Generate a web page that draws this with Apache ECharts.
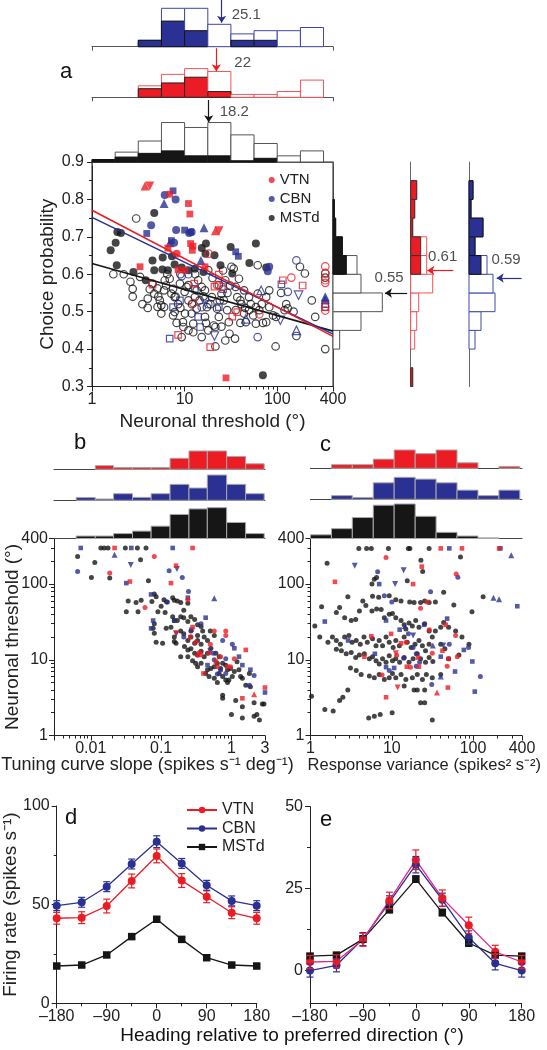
<!DOCTYPE html>
<html><head><meta charset="utf-8">
<script src="https://cdn.jsdelivr.net/npm/echarts@6/dist/echarts.min.js"></script>
<style>html,body{margin:0;padding:0;background:#fff}#c{width:547px;height:1050px}</style>
</head><body><div id="c"></div>
<script>
// ===================== DATA =====================
// Panel a: marginal histograms of neuronal threshold (bin edges, deg)
const aTopBins = [1,1.78,3.16,5.62,10,17.8,31.6,56.2,100,178,316];
const aTopCBNAll = [0,0,2,12,12,7,4,5,5,6];
const aTopCBNSig = [0,0,2,8,5,0,2,2,0,0];
const aTopVTNAll = [0,0,4,8,10,9,1,1,2,6];
const aTopVTNSig = [0,0,3,5,7,2,0,0,0,0];
const aTopMSTdAll = [2,8,17,32,28,32,22,15,5,9];
const aTopMSTdSig = [2,4,7,9,5,5,1,3,0,0];
const aMeanThrCBN = 25.1, aMeanThrVTN = 22, aMeanThrMSTd = 18.2;
// Panel a: marginal histograms of choice probability
const cpBins = [0.30,0.35,0.40,0.45,0.50,0.55,0.60,0.65,0.70,0.75,0.80,0.85,0.90];
const cpMSTdAll = [0,0,5,21,37,21,18,7,2,1,0,0];
const cpMSTdSig = [0,0,0,0,0,0,10,7,2,1,0,0];
const cpVTNAll = [1,0,2,3,4,11,8,8,1,2,3,0];
const cpVTNSig = [1,0,0,0,0,0,5,5,1,2,3,0];
const cpCBNAll = [0,0,3,6,13,12,9,3,7,1,2,0];
const cpCBNSig = [0,0,0,0,0,0,6,3,7,1,2,0];
const cpMeanMSTd = 0.55, cpMeanVTN = 0.61, cpMeanCBN = 0.59;
// Panel a scatter: [threshold, CP] ; codes O/o circle, S/s square, U/u up-tri, D/d down-tri (upper = filled)
const aMSTdSig = [[4.7,0.764],[1.88,0.713],[2.05,0.71],[1.59,0.664],[1.8,0.684],[1.85,0.624],[2.8,0.606],[3.8,0.584],[4.5,0.637],[5.8,0.645],[7.3,0.648],[5.75,0.613],[6.6,0.611],[4.7,0.611],[7.8,0.626],[9.3,0.618],[15.3,0.67],[17,0.682],[16.8,0.655],[21,0.651],[31.4,0.673],[50,0.63],[58.8,0.682],[76,0.618],[70,0.33],[12.9,0.615],[11,0.611],[16,0.606],[32.7,0.602],[24.4,0.624]];
const aMSTdNS = [[3,0.749],[2.2,0.6],[2.75,0.561],[2.75,0.54],[3.3,0.593],[4,0.535],[4,0.51],[5.1,0.562],[5.2,0.54],[5.4,0.53],[5.6,0.517],[5.1,0.513],[6,0.512],[6,0.557],[6.3,0.57],[6.5,0.6],[6.9,0.588],[7.2,0.548],[7.5,0.561],[7.8,0.539],[8.5,0.52],[7.8,0.499],[7.5,0.49],[8.9,0.575],[10,0.553],[10.5,0.566],[9.6,0.472],[9.7,0.459],[9.3,0.432],[11,0.53],[11.9,0.495],[12.4,0.468],[12.9,0.539],[13.5,0.508],[14,0.584],[15.3,0.566],[16,0.541],[16.6,0.486],[17.4,0.512],[18,0.611],[19.7,0.539],[20.6,0.463],[21.5,0.459],[22.4,0.508],[23.4,0.571],[25,0.548],[26.5,0.53],[27.5,0.584],[28.8,0.504],[30,0.472],[30.5,0.441],[32,0.62],[33.9,0.615],[35.6,0.566],[37,0.539],[38.6,0.588],[41,0.52],[43.8,0.495],[49.6,0.539],[51.8,0.52],[58.8,0.512],[61.5,0.624],[64,0.504],[76,0.539],[82,0.512],[97,0.486],[96,0.407],[120,0.504],[130,0.509],[161,0.435],[176,0.62],[199,0.602],[257,0.486],[236,0.53],[330,0.602],[330,0.591],[330,0.4],[21.5,0.407],[27.5,0.423],[35,0.428],[58.8,0.468],[76,0.472],[11,0.45],[18,0.45],[15.3,0.432],[12.4,0.445],[5.6,0.495],[4.7,0.548],[4.5,0.575],[6.1,0.584],[10.1,0.495],[16.6,0.557],[43.8,0.557],[49.6,0.504],[23.4,0.486],[11,0.571],[13.5,0.557],[35.6,0.504],[45.8,0.472],[61.5,0.548],[82,0.557],[125,0.52],[2.6,0.58],[3.5,0.52],[4.2,0.56],[8,0.54],[9,0.51],[12,0.52],[14.5,0.53],[19,0.52],[24,0.53],[29,0.55],[40,0.53],[45,0.51],[55,0.49],[68,0.52],[90,0.49],[110,0.55],[150,0.5],[9,0.6],[13,0.6],[20,0.59],[26,0.61],[31,0.57],[8.2,0.47],[17,0.47],[25,0.46],[40,0.47],[70,0.47],[1.7,0.6]];
const aVTN = [[3.74,0.836,'U'],[4.2,0.836,'D'],[21.5,0.716,'U'],[23.5,0.716,'D'],[6.9,0.814,'S'],[11,0.789,'S'],[11.4,0.761,'S'],[11.6,0.682,'S'],[12.1,0.664,'S'],[6.6,0.67,'S'],[3.3,0.62,'S'],[10,0.611,'S'],[8.5,0.612,'S'],[28,0.323,'S'],[16.6,0.62,'S'],[12.3,0.675,'S'],[8.2,0.655,'O'],[18.1,0.655,'o'],[12.4,0.523,'o'],[142,0.591,'o'],[330,0.621,'o'],[330,0.604,'o'],[330,0.584,'o'],[330,0.577,'o'],[330,0.513,'o'],[330,0.503,'o'],[64,0.493,'o'],[22.4,0.571,'o'],[25,0.566,'o'],[4.5,0.572,'s'],[8.5,0.438,'s'],[18.9,0.405,'s'],[12.7,0.575,'s'],[23.4,0.599,'s'],[32.7,0.487,'s'],[37,0.499,'s'],[115,0.584,'s'],[188,0.57,'s'],[21,0.567,'s']];
const aCBN = [[6.1,0.812,'O'],[8,0.8,'O'],[4.35,0.731,'O'],[8.1,0.718,'O'],[11.9,0.713,'O'],[82,0.62,'O'],[79,0.608,'O'],[7.7,0.684,'O'],[11.2,0.71,'O'],[7.5,0.823,'S'],[3.9,0.709,'S'],[10,0.718,'S'],[11.6,0.713,'S'],[35.6,0.66,'S'],[38,0.648,'S'],[7.2,0.69,'S'],[6,0.789,'U'],[16.2,0.724,'U'],[6.9,0.684,'U'],[15,0.637,'U'],[330,0.54,'U'],[330,0.533,'U'],[161,0.637,'o'],[130,0.553,'o'],[61.5,0.432,'o'],[16.6,0.535,'o'],[15.3,0.512,'o'],[9.3,0.595,'o'],[18,0.52,'o'],[11,0.6,'o'],[6.9,0.428,'s'],[8.9,0.53,'s'],[7.5,0.512,'s'],[14.7,0.459,'s'],[14,0.486,'s'],[23.4,0.512,'s'],[12.9,0.561,'s'],[111,0.573,'s'],[330,0.52,'s'],[330,0.512,'s'],[26,0.56,'s'],[67,0.557,'u'],[45.8,0.481,'u'],[161,0.45,'u'],[108,0.477,'d'],[170,0.544,'d'],[21,0.435,'d']];
const aFitVTN = [[1,0.771],[400,0.434]];
const aFitCBN = [[1,0.752],[400,0.44]];
const aFitMSTd = [[1,0.629],[400,0.448]];

// Panel b: slope histograms and scatter [slope, threshold]
const bBins = [0.0062,0.0116,0.0211,0.0392,0.0721,0.134,0.249,0.454,0.855,1.59,2.92];
const bVTNHist = [0,2,1,1,1,6,10,10,7,3];
const bCBNHist = [1.5,0.7,3.6,1.6,3.6,8.7,6.7,13.8,8.7,3.6];
const bMSTdHist = [2,2,4,6,10,19.5,24,25,13,4];
const bMSTd = [[0.0139,300],[0.0155,300],[0.0176,300],[0.031,300],[0.046,300],[0.061,300],[0.0065,232],[0.0114,193],[0.0102,122],[0.0186,120],[0.051,210],[0.066,111],[0.034,60],[0.044,57],[0.052,61],[0.032,43],[0.047,43],[0.08,74],[0.085,68],[0.074,59],[0.09,43],[0.08,30],[0.085,17],[0.1,51],[0.11,62],[0.12,58],[0.146,66],[0.154,61],[0.17,60],[0.19,57],[0.21,45],[0.24,56],[0.114,42],[0.146,37],[0.154,33],[0.17,33],[0.19,37],[0.21,36],[0.24,32],[0.265,37],[0.3,34],[0.33,29],[0.37,27.5],[0.138,27],[0.154,20],[0.163,16.6],[0.19,24],[0.21,22],[0.24,18],[0.265,20],[0.3,16.6],[0.33,18],[0.37,16],[0.41,20],[0.457,18],[0.5,24],[0.57,21],[0.215,15],[0.24,13.5],[0.265,14],[0.3,12.2],[0.33,11.6],[0.37,13],[0.41,11],[0.457,12.2],[0.51,14.2],[0.6,12.2],[0.67,11],[0.75,9],[0.83,8.5],[0.63,9],[0.57,8.1],[0.51,7.7],[0.457,7.4],[0.43,6.6],[0.48,6],[0.57,5.7],[0.67,6.6],[0.75,6],[0.83,5.4],[0.92,5.4],[1.03,6],[1.1,7],[1.28,7.4],[1.43,5.7],[1.6,4.6],[1.86,4.4],[0.75,3.4],[0.75,3.1],[1.15,2.9],[1.43,2.4],[2.1,2.7],[2.9,2.6],[2.75,2.6],[1.0,1.9],[1.43,1.7],[2.1,1.8],[2.3,1.9],[2.5,1.6],[0.31,9],[0.33,8.1],[0.28,9.7],[0.24,11],[0.19,11],[0.154,17.4],[0.265,24],[0.33,21],[0.39,24],[0.105,16.6],[0.08,22.5],[0.077,26],[0.118,26],[0.37,9],[0.88,7.4],[0.7,7.7],[0.97,7.7],[1.2,9.4],[1.35,6],[1.8,6.6],[0.88,5],[0.63,5]];
const bVTN = [[0.0218,300,'S'],[0.28,300,'S'],[0.08,232,'O'],[0.0186,140,'O'],[0.036,108,'S'],[0.059,49,'O'],[0.163,175,'S'],[0.138,103,'S'],[0.24,62,'O'],[0.163,22.5,'D'],[0.28,27,'S'],[0.31,17,'O'],[0.57,24,'O'],[0.83,21,'O'],[0.37,11.6,'S'],[0.48,12.3,'O'],[0.7,11,'O'],[0.4,6.6,'S'],[0.63,8.1,'O'],[0.88,8.1,'S'],[0.97,8.1,'O'],[1.1,10.3,'O'],[1.6,13.5,'S'],[1.43,3.1,'S'],[2.1,3.5,'U'],[3,4.3,'S'],[0.5,16,'O'],[0.83,24,'O'],[0.33,11.6,'O'],[0.26,20,'S'],[0.6,9.5,'S'],[0.35,12.5,'O']];
const bCBN = [[0.0072,300,'S'],[0.0377,300,'S'],[0.146,300,'S'],[0.0218,244,'U'],[0.0065,147,'O'],[0.037,178,'D'],[0.032,103,'S'],[0.168,158,'D'],[0.13,150,'O'],[0.2,122,'O'],[0.245,80,'O'],[0.57,65,'U'],[0.072,73,'S'],[0.123,58,'O'],[0.24,66,'S'],[0.154,33,'S'],[0.077,33,'S'],[0.072,26,'S'],[0.21,20,'O'],[0.43,36,'S'],[0.37,30,'O'],[0.75,18,'O'],[1.03,16,'O'],[1.1,14.2,'S'],[0.83,10.3,'O'],[0.57,10,'O'],[0.5,13,'D'],[0.55,12.2,'O'],[1.28,11,'S'],[1.43,8.5,'S'],[1.86,7.4,'S'],[2.1,6.2,'O'],[1.8,4.6,'O'],[3,3.7,'S'],[0.457,8.5,'S'],[0.7,7.4,'S'],[0.83,6.6,'O'],[0.63,6.5,'O'],[0.165,22,'D'],[0.27,25,'S']];

// Panel c: response variance histograms and scatter [variance, threshold]
const cBins = [1,1.81,3.27,5.92,10.7,19.4,35.1,63.5,115,208,376];
const cVTNHist = [0,2,2,5,10,8,10,3,0,1];
const cCBNHist = [0,2,1,9,12,11,9,5,2,5];
const cMSTdHist = [3,8,17,27,28,18,5,2,0.5,0];
const cMSTd = [[3.93,296],[4.9,296],[5.6,296],[9.1,296],[16,296],[16.7,296],[28.8,296],[1.6,188],[22.8,207],[70,228],[24,147],[15.5,111],[6.1,116],[5.7,100],[6.5,122],[43.5,78],[2.88,68],[4.4,60],[5.8,69],[6.9,67],[9.3,70],[11.2,62],[13,60],[16.6,58],[18.8,57],[22.6,57],[25.4,60],[28.8,57],[34.4,58],[58,53],[97,43],[133,68],[1.37,50],[2.08,42],[2.28,49],[2.63,36],[3.17,33],[3.6,34],[4,44],[4.8,52],[5.7,44],[6.5,47],[7.4,46],[8.1,36],[9.3,40],[10.2,41],[11.2,36],[13,33],[14.2,29],[14.9,25.5],[16.3,30.5],[17.9,28],[19.7,33],[21.6,27],[25.4,30],[28.8,24],[31.5,20],[34.4,24],[40,27],[43.5,31],[50,27],[61,24],[73,20],[89,16.1],[67,11.6],[45,14],[40,16],[1.3,20],[1.64,17],[1.86,20],[2.08,18],[2.33,16],[2.63,20],[2.97,21],[3.25,17],[3.65,18],[4.1,16],[4.55,20],[5,17],[5.8,19],[6.4,15.3],[7,18],[7.7,15.3],[8.5,20],[9.3,17],[10.4,14.5],[11.2,18],[12.4,15.3],[14.2,20],[15.5,17],[17.3,14.5],[19.3,16],[21.6,18],[23.8,15.3],[26,13.2],[28.8,16],[2.08,13.8],[2.4,13.2],[2.75,12],[3.17,12.5],[3.6,10.7],[4,11.6],[4.6,12],[5.3,10.3],[5.8,11],[6.4,9.7],[7,8.8],[7.7,10.3],[8.5,9.3],[9.3,11.3],[10.2,9.7],[11.2,10.3],[12.5,9.3],[14.2,10.7],[16.3,9.3],[18.3,10.3],[20.6,12],[22.6,10.3],[26,9.3],[28.8,10.7],[32,9.5],[50,10.3],[3.1,7.8],[3.65,7.2],[4.2,6.4],[5.3,6.1],[6.1,5.8],[7,6.4],[8.1,5.5],[9.3,5.8],[10.2,6.6],[11.2,5.8],[13,6.4],[14.9,5.5],[17.9,5.8],[20.6,6.4],[23.8,5.5],[26.6,6.4],[31.5,5.8],[40,6.4],[2.88,4.0],[14.2,4.5],[18.8,4],[20.6,4],[25.4,4],[22.6,2.7],[25.4,2.7],[31.5,1.6],[2.5,3.2],[2.28,2.9],[1.5,2.2],[1.9,2.1],[5.2,1.7],[6.1,1.8],[7.2,1.9],[10.1,2.0],[1.03,3.3],[1.13,28]];
const cVTN = [[40,296,'S'],[73,296,'S'],[209,296,'S'],[8.5,225,'O'],[2.0,107,'S'],[23.4,170,'S'],[18.3,100,'S'],[62,136,'O'],[27.5,58,'S'],[22.6,48,'O'],[46,29,'S'],[61,21,'O'],[9.8,22,'S'],[5.6,20.5,'S'],[15,17,'O'],[11.2,12.2,'D'],[11.5,11.5,'O'],[21,10.7,'S'],[31.5,12.2,'O'],[42,13.2,'S'],[50,10.3,'S'],[64,11,'O'],[7.6,6.3,'O'],[15.3,8.1,'S'],[17,8,'O'],[21.6,8.1,'S'],[36,3.7,'U'],[49,4.3,'S'],[8.5,3.2,'S'],[11.8,4.3,'D'],[48,8.2,'O'],[13,16.5,'S'],[4.6,11,'S'],[29,25,'O']];
const cCBN = [[51,296,'S'],[217,296,'S'],[295,240,'U'],[3.5,175,'D'],[6.7,145,'O'],[11,100,'D'],[14,152,'D'],[7,100,'S'],[65,123,'O'],[30,79,'O'],[8.1,70,'O'],[10,58,'O'],[178,66,'U'],[209,63,'U'],[350,51,'S'],[1.5,32,'S'],[8.5,33,'S'],[12.5,25,'S'],[14.5,28,'U'],[25,29,'S'],[48,35,'S'],[18.3,21,'D'],[32,15.5,'U'],[43,15.5,'D'],[51,16,'O'],[40,11,'S'],[77,13.5,'S'],[88,14.5,'O'],[98,9.5,'S'],[60,7,'S'],[123,6,'O'],[105,3.8,'S'],[31,4.7,'O'],[40,6,'U'],[20,8.2,'O'],[9.3,7.2,'O'],[10.7,7.8,'S'],[8.5,8,'S'],[18.3,14.5,'O'],[2.9,18,'S'],[6.2,12,'S'],[16,22,'O'],[20,12,'O'],[22,9.3,'O'],[14,10.5,'O']];

// Panels d, e: tuning curves (heading deg) mean and s.e.m.
const headings = [-180,-135,-90,-45,0,45,90,135,180];
const dVTN = [43.1,43.4,49.3,62,74.7,62.2,54,45.9,43.1];
const dVTNErr = [3,3,3.5,3.5,3.5,3.5,3,3,3];
const dCBN = [49.5,51.2,59.1,70.6,81.9,70.9,59.8,51.9,49.5];
const dCBNErr = [2.5,2.5,2.5,2.5,3,2.5,2.5,2.5,2.5];
const dMSTd = [18.9,19.4,24.5,33.8,42.6,32.4,23.1,19.4,18.9];
const dMSTdErr = [1,1,1,1,1.2,1,1,1,1];
const eVTN = [2.6,2.8,9.4,21.4,33.8,22.1,13.8,5.7,2.6];
const eVTNErr = [2,2,2,2.5,3,2.5,2.5,2,2];
const eCBN = [0,1.6,9.6,20.8,32.3,21.6,10.1,2.2,0];
const eCBNErr = [2,2,2,2,2.5,2,2,2,2];
const eMSTd = [4.4,4.7,9.6,18.6,27.9,17.7,8.4,4.7,4.4];
const eMSTdErr = [0.8,0.8,1,1,1,1,1,0.8,0.8];

// ===================== STYLE / BUILD =====================
const FONT = "'Liberation Sans', Arial, Helvetica, sans-serif";
const RED = '#ec1c24', BLUE = '#2b3192', BLACK = '#161616', AX = '#222';
const RED_OUT = '#f2545a', BLUE_OUT = '#3d48a8', GREY_OUT = '#555';
const PINK = '#e4288a';

const grids = [], xAxes = [], yAxes = [], series = [];
const T = (size, extra) => Object.assign({fontSize: size, color: AX, fontFamily: FONT}, extra || {});
const line = (c) => ({show: true, onZero: false, lineStyle: {color: c || AX, width: 1}});
function grid(g) { grids.push(Object.assign({outerBoundsMode: 'none', containLabel: false}, g)); return grids.length - 1; }
const axBase = () => ({splitLine: {show: false}, axisLabel: {show: false}, axisTick: {show: false}, axisLine: {show: false, onZero: false}, minorTick: {show: false}, nameMoveOverlap: false});
function xa(o) { xAxes.push(Object.assign(axBase(), {position: 'bottom'}, o)); return xAxes.length - 1; }
function ya(o) { yAxes.push(Object.assign(axBase(), {position: 'left'}, o)); return yAxes.length - 1; }
function logMinor(lo, hi) {
  const out = [];
  for (let e = Math.floor(Math.log10(lo)); e <= Math.ceil(Math.log10(hi)); e++)
    for (let m = 2; m <= 9; m++) { const v = +(m * Math.pow(10, e)).toPrecision(3); if (v > lo * 1.01 && v < hi * 0.99) out.push(v); }
  return out;
}
const fmtLog = (v) => { if (v < 0.0049) return ''; return String(+(+v).toPrecision(3)); };
const binRows = (edges, all, sig) => all.map((v, i) => [edges[i], edges[i + 1], v, sig ? sig[i] : 0]);

function vHist(outline, fill, stroke) {
  return (params, api) => {
    const lo = api.value(0), hi = api.value(1), all = api.value(2), sig = api.value(3);
    const ch = [];
    const box = (v, st) => { const a = api.coord([lo, 0]), b = api.coord([hi, v]); ch.push({type: 'rect', shape: {x: a[0], y: b[1], width: b[0] - a[0], height: a[1] - b[1]}, style: st}); };
    if (all > 0) box(all, outline ? {fill: '#fff', stroke: outline, lineWidth: 1} : {fill: fill, stroke: stroke, lineWidth: 1});
    if (sig > 0) box(sig, {fill: fill, stroke: stroke, lineWidth: 1});
    return {type: 'group', children: ch};
  };
}
function hHist(outline, fill, stroke) {
  return (params, api) => {
    const lo = api.value(0), hi = api.value(1), all = api.value(2), sig = api.value(3);
    const ch = [];
    const box = (v, st) => { const a = api.coord([0, lo]), b = api.coord([v, hi]); ch.push({type: 'rect', shape: {x: a[0], y: b[1], width: b[0] - a[0], height: a[1] - b[1]}, style: st}); };
    if (all > 0) box(all, {fill: '#fff', stroke: outline, lineWidth: 1});
    if (sig > 0) box(sig, {fill: fill, stroke: stroke, lineWidth: 1});
    return {type: 'group', children: ch};
  };
}
function errBars(color) {
  return (params, api) => {
    const x = api.value(0), m = api.value(1), e = api.value(2);
    const t = api.coord([x, m + e]), b = api.coord([x, m - e]), w = 3.5;
    const st = {stroke: color, lineWidth: 1.2};
    return {type: 'group', children: [
      {type: 'line', shape: {x1: t[0], y1: t[1], x2: b[0], y2: b[1]}, style: st},
      {type: 'line', shape: {x1: t[0] - w, y1: t[1], x2: t[0] + w, y2: t[1]}, style: st},
      {type: 'line', shape: {x1: b[0] - w, y1: b[1], x2: b[0] + w, y2: b[1]}, style: st}]};
  };
}
const SIZES_A = {O: 8, o: 7.5, S: 6.8, s: 6.5, U: 9, u: 8.5, D: 9, d: 8.5};
const SIZES_B = {O: 5, o: 5, S: 4.6, s: 4.6, U: 6, u: 6, D: 6, d: 6};
function pts(arr, color, sizes, defCode) {
  return arr.map(p => {
    const code = p[2] || defCode;
    const k = code.toUpperCase();
    const filled = code === k;
    return {
      value: [p[0], p[1]],
      symbol: k === 'O' ? 'circle' : (k === 'S' ? 'rect' : 'triangle'),
      symbolRotate: k === 'D' ? 180 : 0,
      symbolSize: sizes[code],
      itemStyle: filled ? {color: color, borderWidth: 0} : {color: 'rgba(255,255,255,0)', borderColor: color, borderWidth: 1.2}
    };
  });
}
function scat(name, xi, yi, data, color, z) {
  series.push({type: 'scatter', name: name, xAxisIndex: xi, yAxisIndex: yi, data: data, itemStyle: {color: color}, z: z || 3, silent: true, animation: false, emphasis: {disabled: true}});
}
function annot(xi, yi, labelPt, text, arrowFrom, arrowTo, color, pos, dist) {
  series.push({type: 'scatter', xAxisIndex: xi, yAxisIndex: yi, symbolSize: 0, data: [labelPt], silent: true, animation: false, z: 6,
    label: {show: true, position: pos, distance: dist || 0, formatter: text, fontSize: 15, color: AX, fontFamily: FONT},
    markLine: {silent: true, animation: false, symbol: ['none', 'arrow'], symbolSize: 7, label: {show: false},
      lineStyle: {color: color, width: 1.2, type: 'solid'}, emphasis: {disabled: true},
      data: [[{coord: arrowFrom}, {coord: arrowTo}]]}});
}
function custom(xi, yi, render, data, z) {
  series.push({type: 'custom', xAxisIndex: xi, yAxisIndex: yi, renderItem: render, data: data, clip: false, silent: true, animation: false, z: z || 2});
}

// ---------- Panel a ----------
const AL = 92, AW = 241, AT = 162, AH = 224.5;
const PXC_BLUE = 3.2, PXC_RED = 2.87, PXC_BLK = 1.233;
const endTicks = {show: true, customValues: [1, 400], length: 4, lineStyle: {color: GREY_OUT}};
// top CBN hist
let g = grid({left: AL, top: 0, width: AW, height: 46.7});
let xi = xa({gridIndex: g, type: 'log', logBase: 10, min: 1, max: 400, axisLine: line(GREY_OUT), axisTick: endTicks});
let yi = ya({gridIndex: g, type: 'value', min: 0, max: 46.7 / PXC_BLUE});
custom(xi, yi, vHist(BLUE_OUT, BLUE, '#111'), binRows(aTopBins, aTopCBNAll, aTopCBNSig));
annot(xi, yi, [aMeanThrCBN, 9.9], String(aMeanThrCBN), [aMeanThrCBN, 46.7 / PXC_BLUE], [aMeanThrCBN, 7.5], BLUE, 'right', 10);
// top VTN hist
g = grid({left: AL, top: 47, width: AW, height: 50.3});
xi = xa({gridIndex: g, type: 'log', logBase: 10, min: 1, max: 400, axisLine: line(GREY_OUT), axisTick: endTicks});
yi = ya({gridIndex: g, type: 'value', min: 0, max: 50.3 / PXC_RED});
custom(xi, yi, vHist(RED_OUT, RED, '#222'), binRows(aTopBins, aTopVTNAll, aTopVTNSig));
annot(xi, yi, [aMeanThrVTN, 12.06], String(aMeanThrVTN), [aMeanThrVTN, 17.1], [aMeanThrVTN, 9.1], RED, 'right', 18);
// top MSTd hist
g = grid({left: AL, top: 100, width: AW, height: 62});
xi = xa({gridIndex: g, type: 'log', logBase: 10, min: 1, max: 400, axisLine: line(GREY_OUT), axisTick: endTicks});
yi = ya({gridIndex: g, type: 'value', min: 0, max: 62 / PXC_BLK});
custom(xi, yi, vHist(GREY_OUT, BLACK, '#111'), binRows(aTopBins, aTopMSTdAll, aTopMSTdSig));
annot(xi, yi, [aMeanThrMSTd, 40.8], String(aMeanThrMSTd), [aMeanThrMSTd, 62 / PXC_BLK], [aMeanThrMSTd, 32.3], BLACK, 'right', 11);
// scatter a
const gA = grid({left: AL, top: AT, width: AW, height: AH, show: true, borderColor: AX, borderWidth: 1, backgroundColor: 'rgba(0,0,0,0)'});
const xA = xa({gridIndex: gA, type: 'log', logBase: 10, min: 1, max: 400, axisLine: line(),
  axisTick: {show: true, length: 5, lineStyle: {color: AX}},
  axisLabel: {show: true, margin: 5, formatter: fmtLog, ...T(16)},
  name: 'Neuronal threshold (°)', nameLocation: 'middle', nameGap: 26, nameTextStyle: T(19)});
xa({gridIndex: gA, type: 'log', logBase: 10, min: 1, max: 400, axisTick: {show: true, length: 3, customValues: logMinor(1, 400), lineStyle: {color: AX}}});
const yA = ya({gridIndex: gA, type: 'value', min: 0.3, max: 0.9, interval: 0.1, axisLine: line(),
  axisTick: {show: true, length: 5, lineStyle: {color: AX}},
  minorTick: {show: true, splitNumber: 2, length: 3, lineStyle: {color: AX}},
  axisLabel: {show: true, margin: 8, formatter: v => (+v).toFixed(1), ...T(16)},
  name: 'Choice probability', nameLocation: 'middle', nameGap: 35, nameTextStyle: T(19)});
scat('MSTd', xA, yA, pts(aMSTdNS, BLACK, SIZES_A, 'o').concat(pts(aMSTdSig, BLACK, SIZES_A, 'O')), BLACK, 3);
scat('CBN', xA, yA, pts(aCBN, BLUE, SIZES_A, 'O'), BLUE, 4);
scat('VTN', xA, yA, pts(aVTN, RED, SIZES_A, 'O'), RED, 5);
[[aFitMSTd, BLACK], [aFitCBN, BLUE], [aFitVTN, RED]].forEach(([d, c]) => series.push({type: 'line', xAxisIndex: xA, yAxisIndex: yA, data: d, showSymbol: false, symbol: 'none', lineStyle: {color: c, width: 1.6}, z: 6, silent: true, animation: false}));
// right CP hists
const PXC_CPB = 1.333, PXC_CP = 2;
g = grid({left: 333, top: AT, width: 78, height: AH});
xi = xa({gridIndex: g, type: 'value', min: 0, max: 78 / PXC_CPB});
yi = ya({gridIndex: g, type: 'value', min: 0.3, max: 0.9, axisLine: line('#444')});
custom(xi, yi, hHist(GREY_OUT, BLACK, '#111'), binRows(cpBins, cpMSTdAll, cpMSTdSig));
annot(xi, yi, [42, 0.59], String(cpMeanMSTd), [55.7, cpMeanMSTd], [39, cpMeanMSTd], BLACK, 'inside', 0);
g = grid({left: 410.7, top: AT, width: 60, height: AH});
xi = xa({gridIndex: g, type: 'value', min: 0, max: 60 / PXC_CP});
yi = ya({gridIndex: g, type: 'value', min: 0.3, max: 0.9, axisLine: line('#666')});
custom(xi, yi, hHist(RED_OUT, RED, '#333'), binRows(cpBins, cpVTNAll, cpVTNSig));
annot(xi, yi, [16, 0.647], String(cpMeanVTN), [21.3, cpMeanVTN], [8.3, cpMeanVTN], RED, 'inside', 0);
g = grid({left: 469, top: AT, width: 70, height: AH});
xi = xa({gridIndex: g, type: 'value', min: 0, max: 70 / PXC_CP});
yi = ya({gridIndex: g, type: 'value', min: 0.3, max: 0.9, axisLine: line('#666')});
custom(xi, yi, hHist(BLUE_OUT, BLUE, '#111'), binRows(cpBins, cpCBNAll, cpCBNSig));
annot(xi, yi, [18.5, 0.638], String(cpMeanCBN), [26.3, cpMeanCBN], [13.85, cpMeanCBN], BLUE, 'inside', 0);

// ---------- Panels b, c ----------
const PXC_BC = 1.833, PXC_BCK = 1.233;
function histStack(left, width, xmin, xmax, bins, hists) {
  hists.forEach(([d, c, top, h, ppc]) => {
    const gg = grid({left: left, top: top, width: width, height: h});
    const xx = xa({gridIndex: gg, type: 'log', logBase: 10, min: xmin, max: xmax, axisLine: line('#444')});
    const yy = ya({gridIndex: gg, type: 'value', min: 0, max: h / ppc});
    custom(xx, yy, vHist(null, c, '#a8a8a8'), binRows(bins, d, null));
  });
}
function logScatterPanel(left, width, xmin, xmax, xname, nameSize, namePad, yname) {
  const gg = grid({left: left, top: 538.5, width: width, height: 197});
  const xx = xa({gridIndex: gg, type: 'log', logBase: 10, min: xmin, max: xmax, axisLine: line(),
    axisTick: {show: true, length: 5, lineStyle: {color: AX}},
    axisLabel: {show: true, margin: 5, formatter: fmtLog, ...T(16)},
    name: xname, nameLocation: 'middle', nameGap: 21, nameTextStyle: T(nameSize, {padding: namePad})});
  xa({gridIndex: gg, type: 'log', logBase: 10, min: xmin, max: xmax, axisTick: {show: true, length: 3, customValues: logMinor(xmin, xmax), lineStyle: {color: AX}}});
  const yy = ya({gridIndex: gg, type: 'log', logBase: 10, min: 1, max: 400, axisLine: line(),
    axisTick: {show: true, length: 5, lineStyle: {color: AX}},
    axisLabel: {show: true, margin: 6, formatter: fmtLog, ...T(16)},
    name: yname, nameLocation: 'middle', nameGap: 32, nameTextStyle: T(19)});
  ya({gridIndex: gg, type: 'log', logBase: 10, min: 1, max: 400, axisTick: {show: true, length: 3, customValues: logMinor(1, 400), lineStyle: {color: AX}}});
  return [xx, yy];
}
histStack(54, 211, 0.003, 3, bBins, [[bVTNHist, RED, 440, 29.3, PXC_BC], [bCBNHist, BLUE, 471, 29.3, PXC_BC], [bMSTdHist, BLACK, 502, 36.5, PXC_BCK]]);
let [xb, yb] = logScatterPanel(54, 211, 0.003, 3, 'Tuning curve slope (spikes s\u207B\u00B9 deg\u207B\u00B9)', 18, [0, 24, 0, 0], 'Neuronal threshold (°)');
scat('MSTd-b', xb, yb, pts(bMSTd, BLACK, SIZES_B, 'O'), BLACK, 3);
scat('CBN-b', xb, yb, pts(bCBN, BLUE, SIZES_B, 'O'), BLUE, 4);
scat('VTN-b', xb, yb, pts(bVTN, RED, SIZES_B, 'O'), RED, 5);
histStack(310.5, 211.5, 1, 400, cBins, [[cVTNHist, RED, 440, 28.3, PXC_BC], [cCBNHist, BLUE, 471, 28.3, PXC_BC], [cMSTdHist, BLACK, 502, 36.5, PXC_BCK]]);
let [xc, yc] = logScatterPanel(310.5, 211.5, 1, 400, 'Response variance (spikes\u00B2 s\u207B\u00B2)', 16.5, [0, 0, 0, 16], '');
scat('MSTd-c', xc, yc, pts(cMSTd, BLACK, SIZES_B, 'O'), BLACK, 3);
scat('CBN-c', xc, yc, pts(cCBN, BLUE, SIZES_B, 'O'), BLUE, 4);
scat('VTN-c', xc, yc, pts(cVTN, RED, SIZES_B, 'O'), RED, 5);

// ---------- Panels d, e ----------
const headFmt = v => v < 0 ? '\u2013' + Math.abs(v) : String(v);
function tuningPanel(left, top, width, height, ymin, ymax, yOpts, sets, suffix, yname) {
  const gg = grid({left: left, top: top, width: width, height: height});
  const xx = xa({gridIndex: gg, type: 'value', min: -180, max: 180, interval: 90, axisLine: line(),
    axisTick: {show: true, length: 5, lineStyle: {color: AX}},
    minorTick: {show: true, splitNumber: 2, length: 3, lineStyle: {color: AX}},
    axisLabel: {show: true, margin: 5, formatter: headFmt, ...T(16)}});
  const yy = ya(Object.assign({gridIndex: gg, type: 'value', min: ymin, max: ymax, axisLine: line(),
    axisLabel: {show: true, margin: 7, ...T(16)},
    name: yname, nameLocation: 'middle', nameGap: 36, nameTextStyle: T(19)}, yOpts));
  sets.forEach(([name, vals, errs, color, lineColor, sym]) => {
    custom(xx, yy, errBars(color), headings.map((h, i) => [h, vals[i], errs[i]]), 4);
    series.push({type: 'line', name: name + suffix, xAxisIndex: xx, yAxisIndex: yy, data: headings.map((h, i) => [h, vals[i]]),
      symbol: sym, symbolSize: sym === 'rect' ? 7.5 : 8, showSymbol: true, lineStyle: {color: lineColor, width: 1.3},
      itemStyle: {color: color}, z: 3, silent: true, animation: false, emphasis: {disabled: true}});
  });
  return gg;
}
tuningPanel(56.7, 806, 200, 197.3, 0, 100,
  {interval: 50, axisTick: {show: true, length: 5, lineStyle: {color: AX}}, minorTick: {show: true, splitNumber: 2, length: 3, lineStyle: {color: AX}}},
  [['VTN', dVTN, dVTNErr, RED, RED, 'circle'], ['CBN', dCBN, dCBNErr, BLUE, BLUE, 'circle'], ['MSTd', dMSTd, dMSTdErr, BLACK, BLACK, 'rect']],
  '-d', 'Firing rate (spikes s\u207B\u00B9)');
const gE = tuningPanel(310, 806.7, 211.7, 196.6, -10, 50,
  {axisTick: {show: true, length: 5, customValues: [0, 25, 50], lineStyle: {color: AX}}, axisLabel: {show: true, margin: 7, customValues: [0, 25, 50], ...T(16)}},
  [['MSTd', eMSTd, eMSTdErr, BLACK, BLACK, 'rect'], ['CBN', eCBN, eCBNErr, BLUE, BLUE, 'circle'], ['VTN', eVTN, eVTNErr, RED, PINK, 'circle']],
  '-e', '');
ya({gridIndex: gE, type: 'value', min: -10, max: 50, axisTick: {show: true, length: 3, customValues: [12.5, 37.5], lineStyle: {color: AX}}});

const txt = (text, x, y, size, align) => ({type: 'text', silent: true, style: {text: text, x: x, y: y, fill: '#111', font: size + 'px ' + FONT, align: align || 'left', verticalAlign: 'middle'}});

const option = {
  animation: false,
  textStyle: {fontFamily: FONT},
  grid: grids, xAxis: xAxes, yAxis: yAxes, series: series,
  legend: [
    {left: 263.7, top: 167.5, orient: 'vertical', itemWidth: 6, itemHeight: 6, itemGap: 4, selectedMode: false,
      textStyle: T(15, {lineHeight: 15}),
      data: [{name: 'VTN', icon: 'circle'}, {name: 'CBN', icon: 'circle'}, {name: 'MSTd', icon: 'circle'}]},
    {left: 181, top: 797, orient: 'vertical', itemWidth: 30, itemHeight: 8, itemGap: 2.5, selectedMode: false,
      textStyle: T(16, {lineHeight: 16}), formatter: n => n.split('-')[0],
      data: ['VTN-d', 'CBN-d', 'MSTd-d']}
  ],
  graphic: [
    txt('a', 60, 72, 22), txt('b', 74, 443, 22), txt('c', 320, 445, 22), txt('d', 65, 818, 22), txt('e', 320, 820, 22),
    txt('Heading relative to preferred direction (°)', 292, 1036, 19, 'center')
  ]
};
const chart = echarts.init(document.getElementById('c'), null, {renderer: 'canvas'});
chart.setOption(option);
</script></body></html>
